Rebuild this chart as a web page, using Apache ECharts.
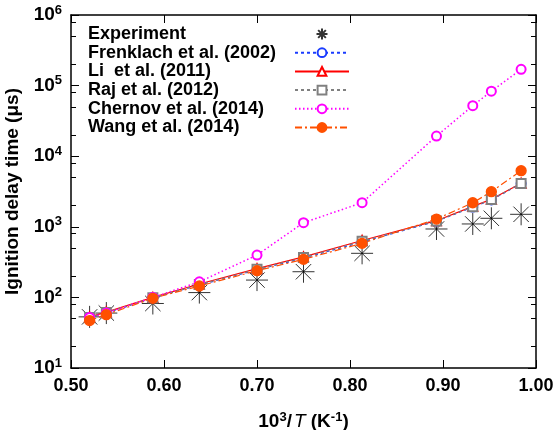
<!DOCTYPE html>
<html><head><meta charset="utf-8">
<script src="https://cdn.jsdelivr.net/npm/echarts@6/dist/echarts.min.js"></script>
<style>html,body{margin:0;padding:0;background:#fff}#c{width:555px;height:430px}</style>
</head><body><div id="c"></div>
<script>
const xVals = [0.520, 0.538, 0.588, 0.638, 0.700, 0.750, 0.813, 0.893, 0.932, 0.952, 0.984];
const experiment = [53, 60, 82, 117, 176, 231, 421, 931, 1097, 1320, 1503];
const frenklach = [52, 60, 98, 150, 245, 360, 610, 1200, 1900, 2400, 4100];
const li2011 = [53, 62, 100, 155, 255, 375, 640, 1220, 1950, 2450, 4150];
const raj2012 = [52, 61, 99, 152, 250, 368, 625, 1210, 1920, 2430, 4120];
const chernov = [52, 60, 100, 166, 398, 1143, 2193, 19300, 51900, 83300, 170000];
const wang = [47, 57, 97, 145, 239, 346, 584, 1288, 2190, 3140, 6240];
const xTicks = [0.5, 0.6, 0.7, 0.8, 0.9, 1.0];
const yMinorTicks = [20, 50, 80, 200, 500, 800, 2000, 5000, 8000, 20000, 50000, 80000, 200000, 500000, 800000];
const seriesNames = ['Experiment', 'Frenklach et al. (2002)', 'Li  et al. (2011)', 'Raj et al. (2012)', 'Chernov et al. (2014)', 'Wang et al. (2014)'];

const pair = arr => xVals.map((x, i) => [x, arr[i]]);
const FONT = '"Liberation Sans", Arial, sans-serif';
const asterisk = 'path://M10 0 L10 20 M0 10 L20 10 M3 3 L17 17 M3 17 L17 3';

const chart = echarts.init(document.getElementById('c'));
const lineSeries = (name, data, color, type, symbol, size, width) => ({
  name, type: 'line', data: pair(data), symbol, symbolSize: size,
  lineStyle: { color, width: width || 1.2, type },
  itemStyle: { color, borderColor: color, borderWidth: 1.3 },
  z: 3
});
const xAxisBase = {
  type: 'value', min: 0.5, max: 1.0, interval: 0.1,
  axisLine: { lineStyle: { color: '#000', width: 1.5 } },
  axisTick: { inside: true, length: 8, lineStyle: { color: '#000', width: 1 } },
  splitLine: { show: false }
};
const yAxisBase = {
  type: 'log', min: 10, max: 1000000, logBase: 10,
  axisLine: { show: true, lineStyle: { color: '#000', width: 1.5 } },
  axisTick: { inside: true, length: 8, lineStyle: { color: '#000', width: 1 } },
  splitLine: { show: false }
};
// minor ticks: a linear axis spanning log10 of the same range
const yMinorAxis = pos => ({
  type: 'value', min: 1, max: 6, position: pos, offset: 0,
  axisLine: { show: true, lineStyle: { color: 'rgba(0,0,0,0)', width: 1 } },
  axisLabel: { show: false }, splitLine: { show: false },
  axisTick: { show: true, inside: true, length: 5, customValues: yMinorTicks.map(Math.log10), lineStyle: { color: '#000', width: 1 } }
});
chart.setOption({
  animation: false,
  grid: { left: 71, right: 19, top: 15, bottom: 62, outerBoundsMode: 'none', containLabel: false },
  xAxis: [
    Object.assign({}, xAxisBase, {
      position: 'bottom',
      axisLabel: { formatter: v => v.toFixed(2), color: '#000', fontFamily: FONT, fontWeight: 'bold', fontSize: 18, margin: 9 },
      name: '{a|10}{s|3}{a|/}{i|T}{a| (K}{s|-1}{a|)}', nameLocation: 'middle', nameGap: 43,
      nameTextStyle: { rich: {
        a: { fontFamily: FONT, fontWeight: 'bold', fontSize: 19, color: '#000' },
        s: { fontFamily: FONT, fontWeight: 'bold', fontSize: 13, color: '#000', verticalAlign: 'top', padding: [0,0,8,0] },
        i: { fontFamily: FONT, fontStyle: 'italic', fontSize: 19, color: '#000', padding: [0,0,0,2] }
      } }
    }),
    Object.assign({}, xAxisBase, { position: 'top', axisLabel: { show: false } })
  ],
  yAxis: [
    Object.assign({}, yAxisBase, {
      position: 'left',
      axisLabel: {
        formatter: v => '{b|10}{s|' + Math.round(Math.log10(v)) + '}',
        margin: 9,
        rich: {
          b: { fontFamily: FONT, fontWeight: 'bold', fontSize: 19, color: '#000' },
          s: { fontFamily: FONT, fontWeight: 'bold', fontSize: 13, color: '#000', verticalAlign: 'top', padding: [0,0,10,0] }
        }
      },
      name: 'Ignition delay time (\u03bcs)', nameLocation: 'middle', nameGap: 37, nameRotate: 90,
      nameTextStyle: { fontFamily: FONT, fontWeight: 'bold', fontSize: 19, color: '#000' }
    }),
    Object.assign({}, yAxisBase, { position: 'right', axisLabel: { show: false } }),
    yMinorAxis('left'),
    yMinorAxis('right')
  ],
  legend: {
    orient: 'vertical', left: 83, top: 20, align: 'right',
    itemWidth: 54, itemHeight: 11, itemGap: 0.7,
    data: seriesNames,
    formatter: n => '{t|' + n + '}',
    textStyle: { rich: { t: { fontFamily: FONT, fontWeight: 'bold', fontSize: 18, color: '#000', width: 202, align: 'left', lineHeight: 18 } } }
  },
  series: [
    { name: 'Experiment', type: 'scatter', data: pair(experiment), symbol: asterisk, symbolSize: 22,
      itemStyle: { color: 'none', borderColor: '#000', borderWidth: 1 }, z: 2 },
    lineSeries('Frenklach et al. (2002)', frenklach, '#1a3cff', [3, 3], 'emptyCircle', 9),
    lineSeries('Li  et al. (2011)', li2011, '#ff0000', 'solid', 'emptyTriangle', 9),
    lineSeries('Raj et al. (2012)', raj2012, '#808080', [3, 3], 'emptyRect', 9),
    lineSeries('Chernov et al. (2014)', chernov, '#ff00ff', [1.5, 2.5], 'emptyCircle', 9, 1.5),
    lineSeries('Wang et al. (2014)', wang, '#ff5000', [7, 3, 2, 3], 'circle', 10)
  ]
});
</script></body></html>
